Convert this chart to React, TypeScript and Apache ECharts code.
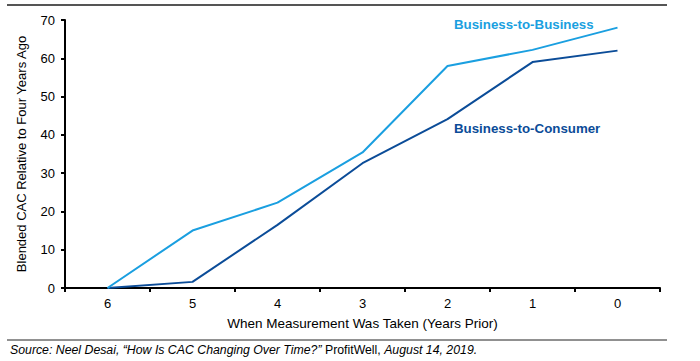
import React, { useEffect, useRef } from "react";
import * as echarts from "echarts";

const categories = ["6", "5", "4", "3", "2", "1", "0"];
const b2b = [0, 15.0, 22.3, 35.4, 58.0, 62.2, 68.0];
const b2c = [0, 1.6, 16.5, 32.6, 44.1, 59.0, 62.0];
const yTitle = "Blended CAC Relative to Four Years Ago";
const xTitle = "When Measurement Was Taken (Years Prior)";
const b2bLabel = "Business-to-Business";
const b2cLabel = "Business-to-Consumer";

const C_B2B = "#1a9fe0";
const C_B2C = "#0b4c98";
const FONT = "Liberation Sans, Arial, sans-serif";

export default function App() {
  const ref = useRef<HTMLDivElement>(null);
  useEffect(() => {
    if (!ref.current) return;
    const chart = echarts.init(ref.current, null, { renderer: "svg" });
    chart.setOption({
      animation: false,
      backgroundColor: "transparent",
      textStyle: { fontFamily: FONT },
      grid: { left: 65, right: 40, top: 20, bottom: 73, containLabel: false },
      xAxis: {
        type: "category",
        data: categories,
        boundaryGap: true,
        name: xTitle,
        nameLocation: "middle",
        nameGap: 28,
        nameTextStyle: { fontSize: 13.5, color: "#000", fontFamily: FONT },
        axisLine: { show: true, lineStyle: { color: "#000", width: 2 } },
        axisTick: { show: true, length: 4, inside: false, lineStyle: { color: "#000", width: 2 } },
        axisLabel: { color: "#000", fontSize: 13, margin: 9, fontFamily: FONT },
        splitLine: { show: false },
      },
      yAxis: {
        type: "value",
        min: 0,
        max: 70,
        interval: 10,
        name: yTitle,
        nameLocation: "middle",
        nameGap: 37,
        nameRotate: 90,
        nameTextStyle: { fontSize: 13, color: "#000", fontFamily: FONT },
        axisLine: { show: true, lineStyle: { color: "#000", width: 2 } },
        axisTick: { show: true, length: 4, lineStyle: { color: "#000", width: 2 } },
        axisLabel: { color: "#000", fontSize: 13, margin: 10, fontFamily: FONT },
        splitLine: { show: false },
      },
      series: [
        {
          name: b2bLabel,
          type: "line",
          data: b2b,
          symbol: "none",
          lineStyle: { color: C_B2B, width: 2 },
          itemStyle: { color: C_B2B },
          z: 3,
        },
        {
          name: b2cLabel,
          type: "line",
          data: b2c,
          symbol: "none",
          lineStyle: { color: C_B2C, width: 2 },
          itemStyle: { color: C_B2C },
          z: 2,
        },
      ],
      graphic: {
        elements: [
          {
            id: "b2bText",
            type: "text",
            x: 454,
            y: 24,
            style: {
              text: b2bLabel,
              fill: C_B2B,
              font: `bold 13.3px ${FONT}`,
              textVerticalAlign: "middle",
            },
          },
          {
            id: "b2cText",
            type: "text",
            x: 454,
            y: 128,
            style: {
              text: b2cLabel,
              fill: C_B2C,
              font: `bold 13.3px ${FONT}`,
              textVerticalAlign: "middle",
            },
          },
          {
            id: "topRule",
            type: "line",
            shape: { x1: 7, y1: 5, x2: 667, y2: 5 },
            style: { stroke: "#555555", lineWidth: 2 },
            z: 10,
          },
          {
            id: "bottomRule",
            type: "line",
            shape: { x1: 7, y1: 340, x2: 667, y2: 340 },
            style: { stroke: "#222222", lineWidth: 1 },
            z: 10,
          },
          {
            id: "source",
            type: "text",
            x: 10,
            y: 350,
            style: {
              rich: {
                i: { fontStyle: "italic", fontSize: 12.3, fontFamily: FONT, fill: "#000" },
                n: { fontStyle: "normal", fontSize: 12.3, fontFamily: FONT, fill: "#000" },
              },
              text:
                "{i|Source: Neel Desai, \u201cHow Is CAC Changing Over Time?\u201d}{n| ProfitWell, }{i|August 14, 2019.}",
              textVerticalAlign: "middle",
            },
          },
        ],
      },
    });
    return () => chart.dispose();
  }, []);
  return (
    <div style={{ position: "fixed", left: 0, top: 0, width: 700, height: 361, background: "#fff" }}>
      <div
        style={{
          position: "absolute",
          left: 7,
          top: 4,
          width: 660,
          height: 0,
          borderTop: "2px solid #555555",
        }}
      />
      <div ref={ref} style={{ position: "absolute", left: 0, top: 0, width: 700, height: 361 }} />
    </div>
  );
}
